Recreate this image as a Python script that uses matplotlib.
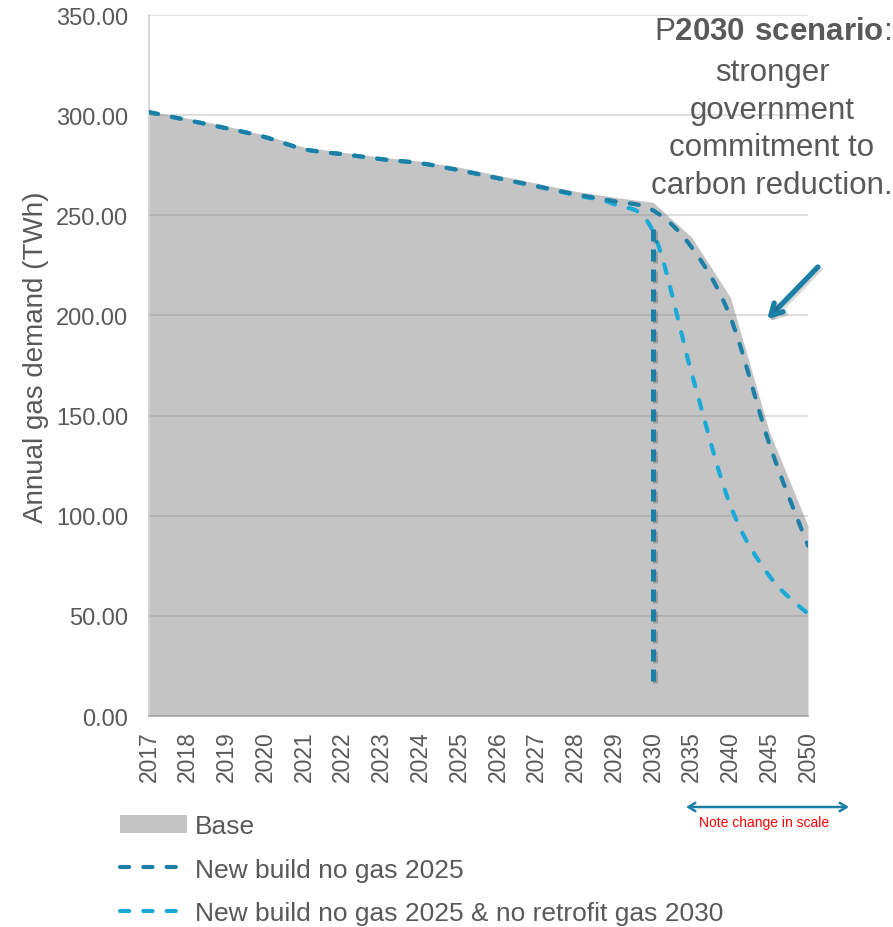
import numpy as np
import matplotlib
matplotlib.use("Agg")
import matplotlib.pyplot as plt
from matplotlib.lines import Line2D
from matplotlib.patches import Patch
import matplotlib.patheffects as pe

# ---------------- data ----------------
years = ["2017", "2018", "2019", "2020", "2021", "2022", "2023", "2024", "2025",
         "2026", "2027", "2028", "2029", "2030", "2035", "2040", "2045", "2050"]
base = [302.0, 298.5, 294.5, 290.0, 284.0, 281.5, 279.0, 277.0, 274.0,
        270.0, 266.0, 262.0, 259.0, 256.5, 239.0, 209.0, 142.0, 95.0]
new_build_2025 = [301.5, 297.5, 293.5, 289.0, 283.0, 280.5, 278.0, 276.0, 272.5,
                  268.5, 264.5, 260.5, 257.0, 252.5, 234.0, 199.0, 136.0, 85.0]
new_build_retrofit_2030 = [301.5, 297.5, 293.5, 289.0, 283.0, 280.5, 278.0, 276.0, 272.5,
                           268.5, 264.5, 260.0, 255.5, 242.0, 171.0, 105.0, 70.0, 51.0]
divider_year = "2030"
divider_span = [243.0, 14.0]
yticks = [0, 50, 100, 150, 200, 250, 300, 350]
labels = ["Base", "New build no gas 2025", "New build no gas 2025 & no retrofit gas 2030"]

# ---------------- style ----------------
plt.rcParams["font.family"] = ["Liberation Sans", "DejaVu Sans"]
plt.rcParams["mathtext.fontset"] = "custom"
plt.rcParams["mathtext.rm"] = "Liberation Sans"
plt.rcParams["mathtext.bf"] = "Liberation Sans:bold"
TXT = "#595959"
GRAY = "#c4c4c4"
DARK = "#1c7fa6"
LIGHT = "#1aaad8"


def catmull_rom(yvals, n=24):
    p = np.column_stack([np.arange(len(yvals), dtype=float), np.asarray(yvals, float)])
    out = []
    for i in range(len(p) - 1):
        p0 = p[i - 1] if i > 0 else p[i]
        p1, p2 = p[i], p[i + 1]
        p3 = p[i + 2] if i + 2 < len(p) else p[i + 1]
        t = np.linspace(0, 1, n, endpoint=False)[:, None]
        seg = 0.5 * ((2 * p1) + (-p0 + p2) * t + (2 * p0 - 5 * p1 + 4 * p2 - p3) * t ** 2
                     + (-p0 + 3 * p1 - 3 * p2 + p3) * t ** 3)
        out.append(seg)
    out.append(p[-1][None, :])
    pts = np.vstack(out)
    return pts[:, 0], pts[:, 1]


fig = plt.figure(figsize=(8.93, 9.28), dpi=100)
ax = fig.add_axes([149 / 893, 1 - 717 / 928, 659 / 893, 701 / 928])

x = np.arange(len(years))
ax.fill_between(x, 0, base, color=GRAY, lw=0, zorder=1)

dash = (0, (2.2, 3.4))
lw = 3.0
xs, ys = catmull_rom(new_build_2025)
ax.plot(xs, ys, color=DARK, lw=lw, ls=dash, dash_capstyle="round", zorder=4)
xs, ys = catmull_rom(new_build_retrofit_2030)
ax.plot(xs, ys, color=LIGHT, lw=lw, ls=dash, dash_capstyle="round", zorder=3)

xi = years.index(divider_year)
ax.plot([xi, xi], divider_span, color=DARK, lw=lw + 0.6, ls=(0, (2.4, 1.6)),
        dash_capstyle="butt", zorder=5,
        path_effects=[pe.SimpleLineShadow(offset=(1.5, -1.5), alpha=0.2), pe.Normal()])

ax.set_xlim(0, len(years) - 1)
ax.set_ylim(0, 350)
ax.set_yticks(yticks)
ax.set_yticklabels([f"{v:.2f}" for v in yticks])
ax.set_xticks(x)
ax.set_xticklabels(years, rotation=90)
ax.tick_params(axis="y", length=0, pad=15, labelsize=17, labelcolor=TXT)
ax.tick_params(axis="x", length=0, pad=10, labelsize=16.5, labelcolor=TXT)
ax.grid(axis="y", color="#808080", alpha=0.3, lw=1.2, zorder=2)
ax.set_axisbelow(False)
for s in ["top", "right"]:
    ax.spines[s].set_visible(False)
ax.spines["left"].set_color("#d0d0d0")
ax.spines["left"].set_linewidth(1.2)
ax.spines["bottom"].set_color("#aaaaaa")
ax.spines["bottom"].set_linewidth(1.2)

ax.set_ylabel("Annual gas demand (TWh)", fontsize=20, color=TXT)
ax.yaxis.set_label_coords(-0.152, 0.513)

# annotation text
fig.text(772 / 893, 1 - 32 / 928, r"P$\mathbf{2030\ scenario}$:", fontsize=22.5,
         color=TXT, ha="center", va="center")
fig.text(772 / 893, 1 - 129.5 / 928, "stronger\ngovernment\ncommitment to\ncarbon reduction.",
         fontsize=22.5, color=TXT, ha="center", va="center", linespacing=1.32)

# pointing arrow
ax.annotate("", xy=(0.938, 0.566), xytext=(1.015, 0.6405), xycoords="axes fraction",
            textcoords="axes fraction",
            arrowprops=dict(arrowstyle="->,head_length=0.8,head_width=0.45", color=DARK, lw=3.8,
                            shrinkA=0, shrinkB=0,
                            path_effects=[pe.SimpleLineShadow(offset=(1.5, -1.5), alpha=0.15),
                                          pe.Normal()]),
            annotation_clip=False)

# scale-change note
ax.annotate("", xy=(686 / 893, 1 - 808 / 928), xytext=(849 / 893, 1 - 808 / 928),
            xycoords="figure fraction", textcoords="figure fraction",
            arrowprops=dict(arrowstyle="<->,head_length=0.5,head_width=0.3", color=DARK, lw=1.8,
                            shrinkA=0, shrinkB=0), annotation_clip=False)
fig.text(764 / 893, 1 - 823 / 928, "Note change in scale", color="#ff0000", fontsize=10,
         ha="center", va="center")

# legend
handles = [Patch(facecolor=GRAY, edgecolor="none"),
           Line2D([], [], color=DARK, lw=lw, ls=dash, dash_capstyle="round"),
           Line2D([], [], color=LIGHT, lw=lw, ls=dash, dash_capstyle="round")]
leg = fig.legend(handles, labels, loc="upper left", bbox_to_anchor=(120 / 893, 1 - 815 / 928),
                 frameon=False, fontsize=19, handlelength=2.55, handletextpad=0.3,
                 labelspacing=0.74, borderpad=0, borderaxespad=0)
for t in leg.get_texts():
    t.set_color(TXT)

fig.savefig("out.png", dpi=100)
